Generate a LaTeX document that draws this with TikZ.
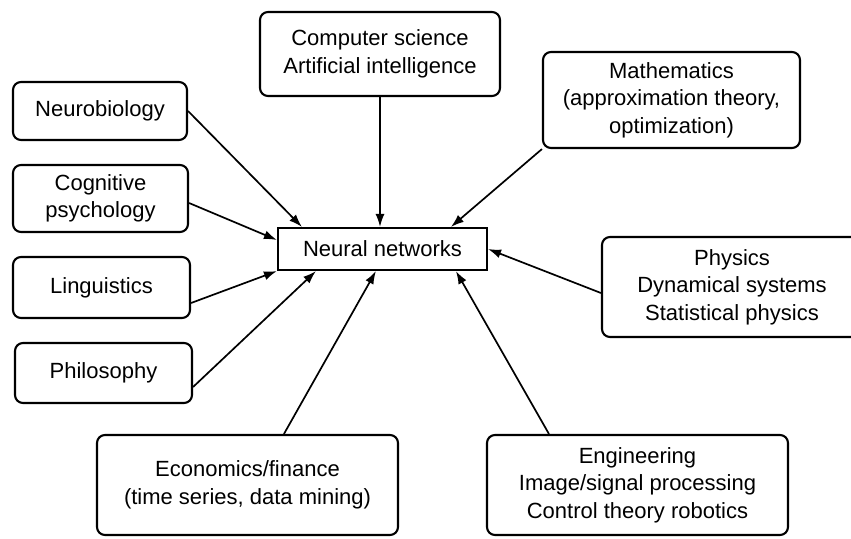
\documentclass[tikz,border=0pt]{standalone}
\usepackage{fontspec}
\setmainfont{Liberation Sans}
\usetikzlibrary{calc,arrows.meta}
\begin{document}
\begin{tikzpicture}[x=1pt,y=-1pt,
  field/.style={draw, line width=2.1pt, rounded corners=8pt, inner sep=0pt,
    align=center, font=\fontsize{22}{27.5}\selectfont},
  hub/.style={draw, line width=2.1pt, inner sep=0pt, align=center,
    minimum width=209pt, minimum height=42pt, font=\fontsize{22}{27}\selectfont},
  feed/.style={line width=1.7pt, -{Latex[length=13pt,width=9pt]}}]
\clip (0,0) rectangle (851,538);
\fill[white] (0,0) rectangle (851,538);

% central topic
\node[hub] (nn) at (382.5,249) {Neural networks};

% contributing fields
\node[field, minimum width=240pt, minimum height=84pt] (cs) at (380,54)
  {Computer science\\Artificial intelligence};
\node[field, minimum width=257pt, minimum height=96pt] (math) at (671.5,100)
  {Mathematics\\(approximation theory,\\optimization)};
\node[field, minimum width=174pt, minimum height=58pt] (neuro) at (100,111)
  {Neurobiology};
\node[field, minimum width=175pt, minimum height=67pt] (cog) at (100.5,198.5)
  {Cognitive\\psychology};
\node[field, minimum width=177pt, minimum height=61pt] (ling) at (101.5,287.5)
  {Linguistics};
\node[field, minimum width=177pt, minimum height=60pt] (phil) at (103.5,373)
  {Philosophy};
\node[field, minimum width=260pt, minimum height=100pt] (phys) at (732,287)
  {Physics\\Dynamical systems\\Statistical physics};
\node[field, minimum width=301pt, minimum height=100pt] (econ) at (247.5,485)
  {Economics/finance\\(time series, data mining)};
\node[field, minimum width=301pt, minimum height=100pt] (eng) at (637.5,485)
  {Engineering\\Image/signal processing\\Control theory robotics};

% connectors into the hub
\draw[feed] (neuro.east) -- ($(nn.north west)+(25,0)$);
\draw[feed] (cs.south) -- (cs.south |- nn.north);
\draw[feed] (math.south west) -- ($(nn.north west)+(174,0)$);
\draw[feed] ($(cog.east)+(0,4.5)$) -- ($(nn.west)+(0,-9)$);
\draw[feed] ($(ling.east)+(0,15.5)$) -- (nn.south west);
\draw[feed] ($(phil.east)+(0,14)$) -- ($(nn.south west)+(39,0)$);
\draw[feed] ($(econ.north west)+(188,0)$) -- ($(nn.south west)+(99,0)$);
\draw[feed] ($(eng.north west)+(63,0)$) -- ($(nn.south west)+(179,0)$);
\draw[feed] ($(phys.west)+(0,6)$) -- (nn.east);
\end{tikzpicture}
\end{document}
